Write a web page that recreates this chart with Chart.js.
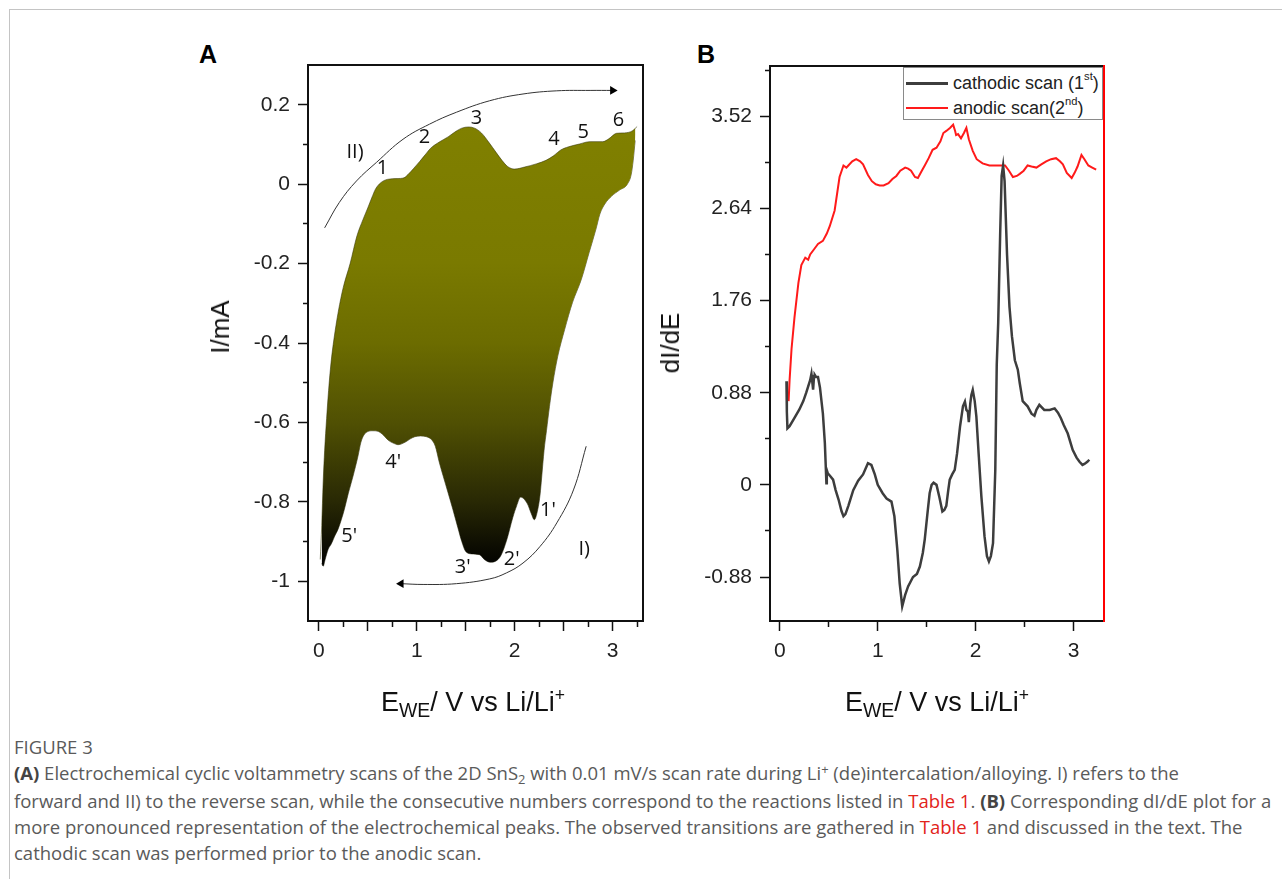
<!DOCTYPE html>
<html>
<head>
<meta charset="utf-8">
<script src="https://cdn.jsdelivr.net/npm/chart.js@4.4.1/dist/chart.umd.min.js"></script>
<style>
html,body{margin:0;padding:0;background:#fff;}
body{width:1282px;height:879px;position:relative;overflow:hidden;font-family:"Liberation Sans",Arial,sans-serif;}
#frame{position:absolute;left:9px;top:9px;width:1300px;height:900px;border-left:1px solid #c4c4c4;border-top:1px solid #c4c4c4;}
.cv{position:absolute;}
.panel{position:absolute;font-weight:bold;font-size:25px;line-height:25px;color:#000;}
.xt{position:absolute;font-size:27px;line-height:27px;color:#111;white-space:nowrap;transform:translateX(-50%);}
.yt{position:absolute;font-size:26px;line-height:26px;color:#111;white-space:nowrap;transform:translate(-50%,-50%) rotate(-90deg);}
.sb{font-size:0.72em;position:relative;top:0.3em;}
.sp{font-size:0.65em;position:relative;top:-0.55em;}
#legB{position:absolute;left:903px;top:67px;width:198px;height:51px;border:1px solid #8a8a8a;background:#fff;font-size:18px;color:#222;}
#legB .row{position:absolute;left:0;height:20px;line-height:20px;white-space:nowrap;}
#legB .sw{position:absolute;left:2px;top:9px;width:42px;height:0;}
#legB .tx{position:absolute;left:49px;top:0;}
#legB sup{font-size:0.62em;position:relative;top:-0.15em;vertical-align:top;line-height:1;}
#cap{position:absolute;left:14px;top:734px;font-family:"Open Sans",sans-serif;font-size:18.5px;line-height:26px;color:#5a5a5a;white-space:nowrap;}
#cap .r{color:#e2231a;}
#cap b{color:#444;}
#cap sub{font-size:0.7em;vertical-align:baseline;position:relative;top:0.3em;}
#cap sup{font-size:0.7em;vertical-align:baseline;position:relative;top:-0.45em;}
</style>
</head>
<body>
<div id="frame"></div>

<div class="panel" style="left:199px;top:42px;">A</div>
<div class="panel" style="left:697px;top:42px;">B</div>

<div class="cv" style="left:150px;top:20px;width:520px;height:700px;"><canvas id="chartA" width="520" height="700"></canvas></div>
<div class="cv" style="left:640px;top:20px;width:500px;height:700px;"><canvas id="chartB" width="500" height="700"></canvas></div>

<div class="yt" style="left:220px;top:327px;">I/mA</div>
<div class="yt" style="left:670px;top:343px;">dI/dE</div>
<div class="xt" style="left:473px;top:689px;">E<span class="sb">WE</span>/ V vs Li/Li<span class="sp">+</span></div>
<div class="xt" style="left:937px;top:689px;">E<span class="sb">WE</span>/ V vs Li/Li<span class="sp">+</span></div>

<div id="legB"></div>

<div id="cap">
<div>FIGURE 3</div>
<div><b>(A)</b> Electrochemical cyclic voltammetry scans of the 2D SnS<sub>2</sub> with 0.01 mV/s scan rate during Li<sup>+</sup> (de)intercalation/alloying. I) refers to the</div>
<div>forward and II) to the reverse scan, while the consecutive numbers correspond to the reactions listed in <span class="r">Table 1</span>. <b>(B)</b> Corresponding dI/dE plot for a</div>
<div>more pronounced representation of the electrochemical peaks. The observed transitions are gathered in <span class="r">Table 1</span> and discussed in the text. The</div>
<div>cathodic scan was performed prior to the anodic scan.</div>
</div>

<script>
// ===== Panel A: cyclic voltammogram (E vs Li/Li+ in V, I in mA) =====
const anodicE = [0.015,0.03,0.045,0.06,0.08,0.10,0.125,0.155,0.20,0.25,0.32,0.39,0.45,0.50,0.54,0.58,0.63,0.70,0.80,0.87,0.91,0.97,1.03,1.09,1.14,1.23,1.32,1.40,1.46,1.53,1.59,1.66,1.74,1.81,1.87,1.93,2.00,2.10,2.22,2.32,2.40,2.47,2.55,2.66,2.77,2.90,2.96,3.04,3.12,3.20,3.25];
const anodicI = [-0.945,-0.86,-0.75,-0.67,-0.59,-0.52,-0.45,-0.39,-0.32,-0.26,-0.20,-0.13,-0.09,-0.06,-0.035,-0.012,0.003,0.012,0.014,0.016,0.024,0.040,0.057,0.075,0.090,0.106,0.119,0.133,0.141,0.144,0.141,0.129,0.104,0.080,0.060,0.044,0.038,0.043,0.051,0.060,0.072,0.086,0.094,0.101,0.107,0.107,0.114,0.128,0.129,0.134,0.145];
// cathodic (forward) scan, listed by increasing potential
const cathodicE = [0.03,0.045,0.065,0.095,0.13,0.163,0.195,0.23,0.26,0.30,0.35,0.40,0.43,0.46,0.50,0.55,0.61,0.66,0.71,0.76,0.81,0.88,0.93,0.98,1.04,1.10,1.15,1.19,1.23,1.27,1.32,1.37,1.42,1.46,1.50,1.56,1.64,1.69,1.75,1.80,1.86,1.92,1.98,2.02,2.06,2.13,2.17,2.20,2.235,2.26,2.275,2.30,2.325,2.355,2.39,2.44,2.51,2.59,2.68,2.76,2.83,2.87,2.92,2.99,3.07,3.15,3.19,3.21,3.23];
const cathodicI = [-0.955,-0.962,-0.945,-0.92,-0.905,-0.886,-0.87,-0.845,-0.82,-0.78,-0.735,-0.685,-0.65,-0.632,-0.623,-0.621,-0.623,-0.632,-0.645,-0.652,-0.656,-0.650,-0.642,-0.636,-0.634,-0.636,-0.643,-0.66,-0.70,-0.735,-0.777,-0.82,-0.865,-0.90,-0.925,-0.931,-0.933,-0.945,-0.952,-0.950,-0.935,-0.895,-0.84,-0.81,-0.788,-0.805,-0.83,-0.845,-0.82,-0.78,-0.74,-0.67,-0.62,-0.56,-0.50,-0.433,-0.366,-0.298,-0.24,-0.172,-0.113,-0.075,-0.05,-0.03,-0.015,0.0,0.025,0.06,0.11];
// scan-direction arrows
const reverseArrowE = [0.06,0.21,0.385,0.59,0.86,1.13,1.405,1.745,2.085,2.43,2.77,3.0];
const reverseArrowI = [-0.11,-0.046,0.008,0.055,0.113,0.151,0.181,0.21,0.227,0.235,0.236,0.236];
const forwardArrowE = [2.73,2.60,2.43,2.26,2.085,1.915,1.745,1.405,1.065,0.84];
const forwardArrowI = [-0.66,-0.77,-0.853,-0.912,-0.954,-0.979,-0.994,-1.006,-1.008,-1.006];
// peak annotations
const peakLabels = ['1','2','3','4','5','6','II)',"1'","2'","3'","4'","5'",'I)'];
const peakLabelE = [0.65,1.08,1.61,2.40,2.70,3.06,0.37,2.34,1.97,1.47,0.76,0.31,2.71];
const peakLabelI = [0.04,0.118,0.166,0.113,0.13,0.162,0.08,-0.82,-0.944,-0.964,-0.70,-0.887,-0.92];
// axes ticks
const xTickValsA = [0,1,2,3];
const xTickLabelsA = ['0','1','2','3'];
const xMajorA = [0.5,1.5,2.5];
const xMinorA = [0.25,0.75,1.25,1.75,2.25,2.75,3.25];
const yTickValsA = [-1,-0.8,-0.6,-0.4,-0.2,0,0.2];
const yTickLabelsA = ['-1','-0.8','-0.6','-0.4','-0.2','0','0.2'];
const yMinorA = [-0.9,-0.7,-0.5,-0.3,-0.1,0.1];

// ===== Panel B: dI/dE =====
const cathDerE = [0.068,0.072,0.078,0.10,0.15,0.20,0.24,0.27,0.29,0.31,0.323,0.33,0.34,0.35,0.357,0.37,0.39,0.41,0.44,0.46,0.476,0.48,0.49,0.51,0.544,0.57,0.60,0.63,0.65,0.67,0.70,0.75,0.80,0.85,0.90,0.935,0.97,1.00,1.05,1.09,1.14,1.17,1.20,1.224,1.25,1.28,1.31,1.36,1.40,1.43,1.46,1.48,1.51,1.53,1.55,1.57,1.60,1.63,1.66,1.68,1.70,1.72,1.735,1.76,1.786,1.81,1.84,1.87,1.89,1.905,1.92,1.93,1.945,1.956,1.97,1.99,2.007,2.03,2.058,2.09,2.115,2.135,2.155,2.177,2.20,2.215,2.23,2.25,2.265,2.28,2.295,2.32,2.345,2.37,2.40,2.43,2.45,2.48,2.53,2.57,2.60,2.62,2.65,2.70,2.755,2.806,2.84,2.87,2.90,2.94,2.99,3.03,3.06,3.09,3.11,3.14,3.16];
const cathDerD = [0.99,0.70,0.54,0.56,0.64,0.72,0.80,0.88,0.94,1.00,1.06,1.00,0.91,1.04,1.05,1.03,1.03,0.93,0.68,0.40,0.016,0.14,0.11,0.09,0.05,-0.05,-0.14,-0.25,-0.30,-0.28,-0.20,-0.05,0.04,0.10,0.207,0.19,0.10,0.0,-0.08,-0.13,-0.16,-0.30,-0.62,-0.94,-1.16,-1.05,-0.97,-0.88,-0.85,-0.78,-0.65,-0.52,-0.25,-0.08,0.0,0.02,0.0,-0.12,-0.255,-0.24,-0.20,-0.05,0.05,0.10,0.143,0.30,0.556,0.75,0.795,0.716,0.70,0.60,0.78,0.859,0.907,0.80,0.652,0.30,-0.11,-0.49,-0.68,-0.73,-0.68,-0.557,0.14,1.15,1.55,2.40,2.95,3.05,2.90,2.20,1.70,1.42,1.19,1.10,0.97,0.80,0.75,0.68,0.66,0.716,0.764,0.716,0.716,0.73,0.69,0.636,0.57,0.49,0.334,0.26,0.22,0.19,0.20,0.22,0.24];
const anoDerE = [0.09,0.10,0.12,0.15,0.19,0.22,0.26,0.29,0.31,0.35,0.39,0.44,0.48,0.51,0.56,0.61,0.65,0.68,0.70,0.74,0.78,0.82,0.85,0.90,0.94,0.98,1.02,1.06,1.11,1.15,1.19,1.23,1.28,1.31,1.34,1.38,1.41,1.45,1.48,1.52,1.56,1.60,1.64,1.67,1.70,1.74,1.77,1.79,1.80,1.82,1.85,1.88,1.905,1.93,1.97,2.01,2.07,2.14,2.22,2.30,2.34,2.38,2.42,2.45,2.49,2.53,2.57,2.62,2.67,2.72,2.77,2.82,2.86,2.89,2.93,2.98,3.01,3.04,3.08,3.11,3.15,3.19,3.23];
const anoDerD = [0.80,1.00,1.30,1.60,1.93,2.10,2.17,2.15,2.20,2.25,2.30,2.33,2.40,2.47,2.62,2.94,3.05,3.03,3.05,3.09,3.11,3.09,3.06,2.96,2.90,2.87,2.86,2.86,2.88,2.92,2.95,3.00,3.03,3.02,3.00,2.94,2.93,3.00,3.05,3.12,3.20,3.22,3.28,3.36,3.38,3.41,3.44,3.38,3.34,3.35,3.31,3.36,3.41,3.30,3.19,3.11,3.07,3.05,3.05,3.05,3.00,2.94,2.95,2.97,3.00,3.05,3.04,3.03,3.06,3.09,3.11,3.12,3.09,3.06,2.98,2.93,2.98,3.04,3.15,3.11,3.05,3.03,3.01];
const seriesNamesB = ['cathodic scan (1<sup>st</sup>)', 'anodic scan(2<sup>nd</sup>)'];
const seriesColorsB = ['#3d3d3d', '#ff1a1a'];
const xTickValsB = [0,1,2,3];
const xTickLabelsB = ['0','1','2','3'];
const xMinorB = [0.5,1.5,2.5];
const yTickValsB = [-0.88,0,0.88,1.76,2.64,3.52];
const yTickLabelsB = ['-0.88','0','0.88','1.76','2.64','3.52'];
const yMinorB = [-0.44,0.44,1.32,2.2,3.08,3.96];

// ===== helpers =====
const pts = (xs, ys) => xs.map((x, i) => ({x, y: ys[i]}));
function tickBuilder(vals, labels, majors, minors) {
  return function (scale) {
    const t = [];
    vals.forEach((v, i) => t.push({value: v, lbl: labels[i], minor: false}));
    majors.forEach(v => t.push({value: v, lbl: '', minor: false}));
    minors.forEach(v => t.push({value: v, lbl: '', minor: true}));
    t.sort((a, b) => a.value - b.value);
    scale.ticks = t;
  };
}
const tickFont = {family: "'Liberation Sans', Arial, sans-serif", size: 21};
function mainAxis(pos, min, max, fitSize, builder) {
  const horiz = pos === 'bottom' || pos === 'top';
  const minorDash = horiz ? [5, 60] : [0, 5, 5, 60];
  return {
    type: 'linear', position: pos, min, max,
    afterBuildTicks: builder,
    afterFit: s => { if (horiz) s.height = fitSize; else s.width = fitSize; },
    ticks: {autoSkip: false, maxRotation: 0, minRotation: 0, padding: 8, color: '#222', font: tickFont,
      callback: (v, i, ts) => (ts[i] && ts[i].lbl) || ''},
    grid: {drawOnChartArea: false, drawTicks: true, tickLength: 10, tickWidth: 1.5, tickColor: '#111',
      tickBorderDash: c => (c.tick && c.tick.minor) ? minorDash : []},
    border: {display: true, color: '#111', width: 2}
  };
}
function frameAxis(pos, min, max, fitSize, color) {
  const horiz = pos === 'bottom' || pos === 'top';
  return {
    type: 'linear', position: pos, min, max, display: true,
    afterFit: s => { if (horiz) s.height = fitSize; else s.width = fitSize; },
    ticks: {display: false},
    grid: {display: false, drawTicks: false, drawOnChartArea: false},
    border: {display: true, color, width: 2}
  };
}
const textLabels = {
  id: 'textLabels',
  afterDatasetsDraw(chart, args, opts) {
    const {ctx, scales: {x, y}} = chart;
    ctx.save();
    ctx.font = opts.font;
    ctx.fillStyle = opts.color;
    ctx.textAlign = 'center';
    ctx.textBaseline = 'middle';
    opts.texts.forEach((t, i) => ctx.fillText(t, x.getPixelForValue(opts.xs[i]), y.getPixelForValue(opts.ys[i])));
    ctx.restore();
  }
};
function loopGradient(c) {
  const chart = c.chart;
  const y = chart.scales && chart.scales.y;
  if (!chart.chartArea || !y) return 'rgb(120,120,0)';
  const g = chart.ctx.createLinearGradient(0, y.getPixelForValue(0.15), 0, y.getPixelForValue(-0.97));
  g.addColorStop(0, 'rgb(128,128,0)');
  g.addColorStop(0.31, 'rgb(122,122,0)');
  g.addColorStop(0.49, 'rgb(108,108,0)');
  g.addColorStop(0.67, 'rgb(80,80,3)');
  g.addColorStop(0.85, 'rgb(40,40,4)');
  g.addColorStop(0.94, 'rgb(15,15,2)');
  g.addColorStop(1, 'rgb(0,0,0)');
  return g;
}
function arrowDataset(xs, ys, rot) {
  const last = xs.length - 1;
  return {
    data: pts(xs, ys), borderColor: '#333', borderWidth: 1, tension: 0.4, fill: false,
    pointRadius: c => c.dataIndex === last ? 5 : 0,
    pointStyle: 'triangle', pointRotation: rot,
    pointBackgroundColor: '#000', pointBorderColor: '#000', pointBorderWidth: 0
  };
}

// ===== Chart A =====
new Chart(document.getElementById('chartA'), {
  type: 'line',
  data: {
    datasets: [
      {data: pts(anodicE, anodicI), fill: '+1', backgroundColor: loopGradient, borderColor: 'rgba(50,50,0,0.7)', borderWidth: 0.8,
        pointRadius: 0, cubicInterpolationMode: 'monotone'},
      {data: pts(cathodicE, cathodicI), fill: false, borderColor: 'rgba(30,30,0,0.7)', borderWidth: 0.8,
        pointRadius: 0, cubicInterpolationMode: 'monotone'},
      arrowDataset(reverseArrowE, reverseArrowI, 90),
      arrowDataset(forwardArrowE, forwardArrowI, 270)
    ]
  },
  options: {
    responsive: false, animation: false, devicePixelRatio: 1,
    layout: {padding: 0},
    plugins: {legend: {display: false}, tooltip: {enabled: false},
      textLabels: {texts: peakLabels, xs: peakLabelE, ys: peakLabelI, font: "20px 'Open Sans', sans-serif", color: '#111'}},
    scales: {
      x: mainAxis('bottom', -0.11, 3.31, 99, tickBuilder(xTickValsA, xTickLabelsA, xMajorA, xMinorA)),
      y: mainAxis('left', -1.1, 0.3, 158, tickBuilder(yTickValsA, yTickLabelsA, [], yMinorA)),
      xTop: frameAxis('top', -0.11, 3.31, 45, '#111'),
      yRight: frameAxis('right', -1.1, 0.3, 27, '#111')
    }
  },
  plugins: [textLabels]
});

// ===== Chart B =====
new Chart(document.getElementById('chartB'), {
  type: 'line',
  data: {
    datasets: [
      {data: pts(cathDerE, cathDerD), borderColor: seriesColorsB[0], borderWidth: 2.5, pointRadius: 0, tension: 0, fill: false},
      {data: pts(anoDerE, anoDerD), borderColor: seriesColorsB[1], borderWidth: 2, pointRadius: 0, tension: 0, fill: false}
    ]
  },
  options: {
    responsive: false, animation: false, devicePixelRatio: 1,
    layout: {padding: 0},
    plugins: {legend: {display: false}, tooltip: {enabled: false}},
    scales: {
      x: mainAxis('bottom', -0.1, 3.31, 99, tickBuilder(xTickValsB, xTickLabelsB, [], xMinorB)),
      y: mainAxis('left', -1.3, 4.0, 130, tickBuilder(yTickValsB, yTickLabelsB, [], yMinorB)),
      xTop: frameAxis('top', -0.1, 3.31, 46, '#111'),
      yRight: frameAxis('right', -1.3, 4.0, 36, '#ff0000')
    }
  }
});

// ===== Legend B (HTML, built from series arrays) =====
const leg = document.getElementById('legB');
seriesNamesB.forEach((name, i) => {
  const row = document.createElement('div');
  row.className = 'row';
  row.style.top = (5 + i * 25) + 'px';
  row.innerHTML = '<div class="sw" style="border-top:' + (i === 0 ? 3 : 2.5) + 'px solid ' + seriesColorsB[i] + '"></div><div class="tx">' + name + '</div>';
  leg.appendChild(row);
});
</script>
</body>
</html>
